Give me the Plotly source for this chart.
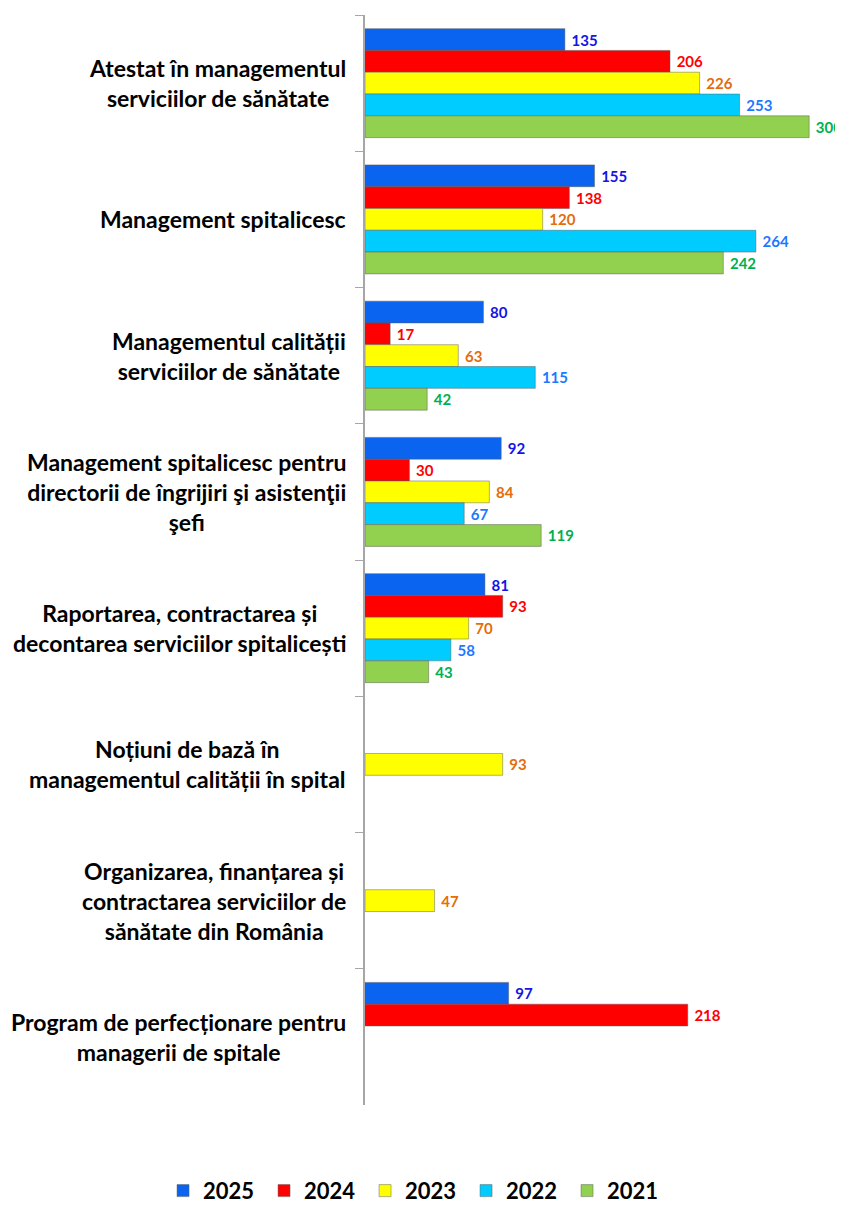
import plotly.graph_objects as go

categories = [
    "Atestat în managementul<br>serviciilor de sănătate",
    "Management spitalicesc",
    "Managementul calității<br>serviciilor de sănătate",
    "Management spitalicesc pentru<br>directorii de îngrijiri şi asistenţii<br>şefi",
    "Raportarea, contractarea și<br>decontarea serviciilor spitalicești",
    "Noțiuni de bază în<br>managementul calității în spital",
    "Organizarea, finanțarea și<br>contractarea serviciilor de<br>sănătate din România",
    "Program de perfecționare pentru<br>managerii de spitale",
]
cat_ids = [f"c{i}" for i in range(len(categories))]

series_names = ["2025", "2024", "2023", "2022", "2021"]
v2025 = [135, 155, 80, 92, 81, None, None, 97]
v2024 = [206, 138, 17, 30, 93, None, None, 218]
v2023 = [226, 120, 63, 84, 70, 93, 47, None]
v2022 = [253, 264, 115, 67, 58, None, None, None]
v2021 = [300, 242, 42, 119, 43, None, None, None]
series_values = [v2025, v2024, v2023, v2022, v2021]

bar_colors = ["#0A64F0", "#FF0000", "#FFFF00", "#00CCFF", "#92D050"]
label_colors = ["#1414E6", "#FF0000", "#E46C0A", "#1E78FF", "#00B050"]

FONT = "Lato"

fig = go.Figure()
for name, vals, bc, lc in zip(series_names, series_values, bar_colors, label_colors):
    fig.add_trace(go.Bar(
        y=cat_ids, x=vals, name=name, orientation="h",
        marker=dict(color=bc, line=dict(color="rgba(90,90,90,0.6)", width=0.8)),
        text=[("" if v is None else "\u00a0" + str(v)) for v in vals],
        textposition="outside", constraintext="none", textangle=0,
        textfont=dict(family=FONT, size=15, color=lc, weight="bold"),
        cliponaxis=False,
        hoverinfo="x+name",
    ))

for cid, label in zip(cat_ids, categories):
    fig.add_annotation(
        x=-0.037, xref="paper", y=cid, yref="y",
        text=f"<b>{label}</b>", showarrow=False, align="center",
        xanchor="right", yanchor="middle",
        font=dict(family=FONT, size=23, color="#000000"),
    )

fig.update_layout(
    width=835, height=1211,
    margin=dict(l=357, r=19, t=7, b=109),
    barmode="group", bargap=0.2, bargroupgap=0,
    paper_bgcolor="white", plot_bgcolor="white",
    font=dict(family=FONT),
    showlegend=True,
    legend=dict(
        orientation="h", x=-0.44, xanchor="left",
        y=-0.098, yanchor="bottom",
        font=dict(family=FONT, size=22, color="#000000", weight="bold"),
        traceorder="normal", entrywidth=56, entrywidthmode="pixels",
    ),
    xaxis=dict(range=[0, 310], visible=False),
    yaxis=dict(
        autorange="reversed", showticklabels=False,
        showline=True, linecolor="#A6A6A6", linewidth=2,
        ticks="outside", ticklen=8, tickcolor="#A6A6A6", tickwidth=1,
        tickson="boundaries", showgrid=False, zeroline=False,
    ),
)

fig.write_html("out.html")
